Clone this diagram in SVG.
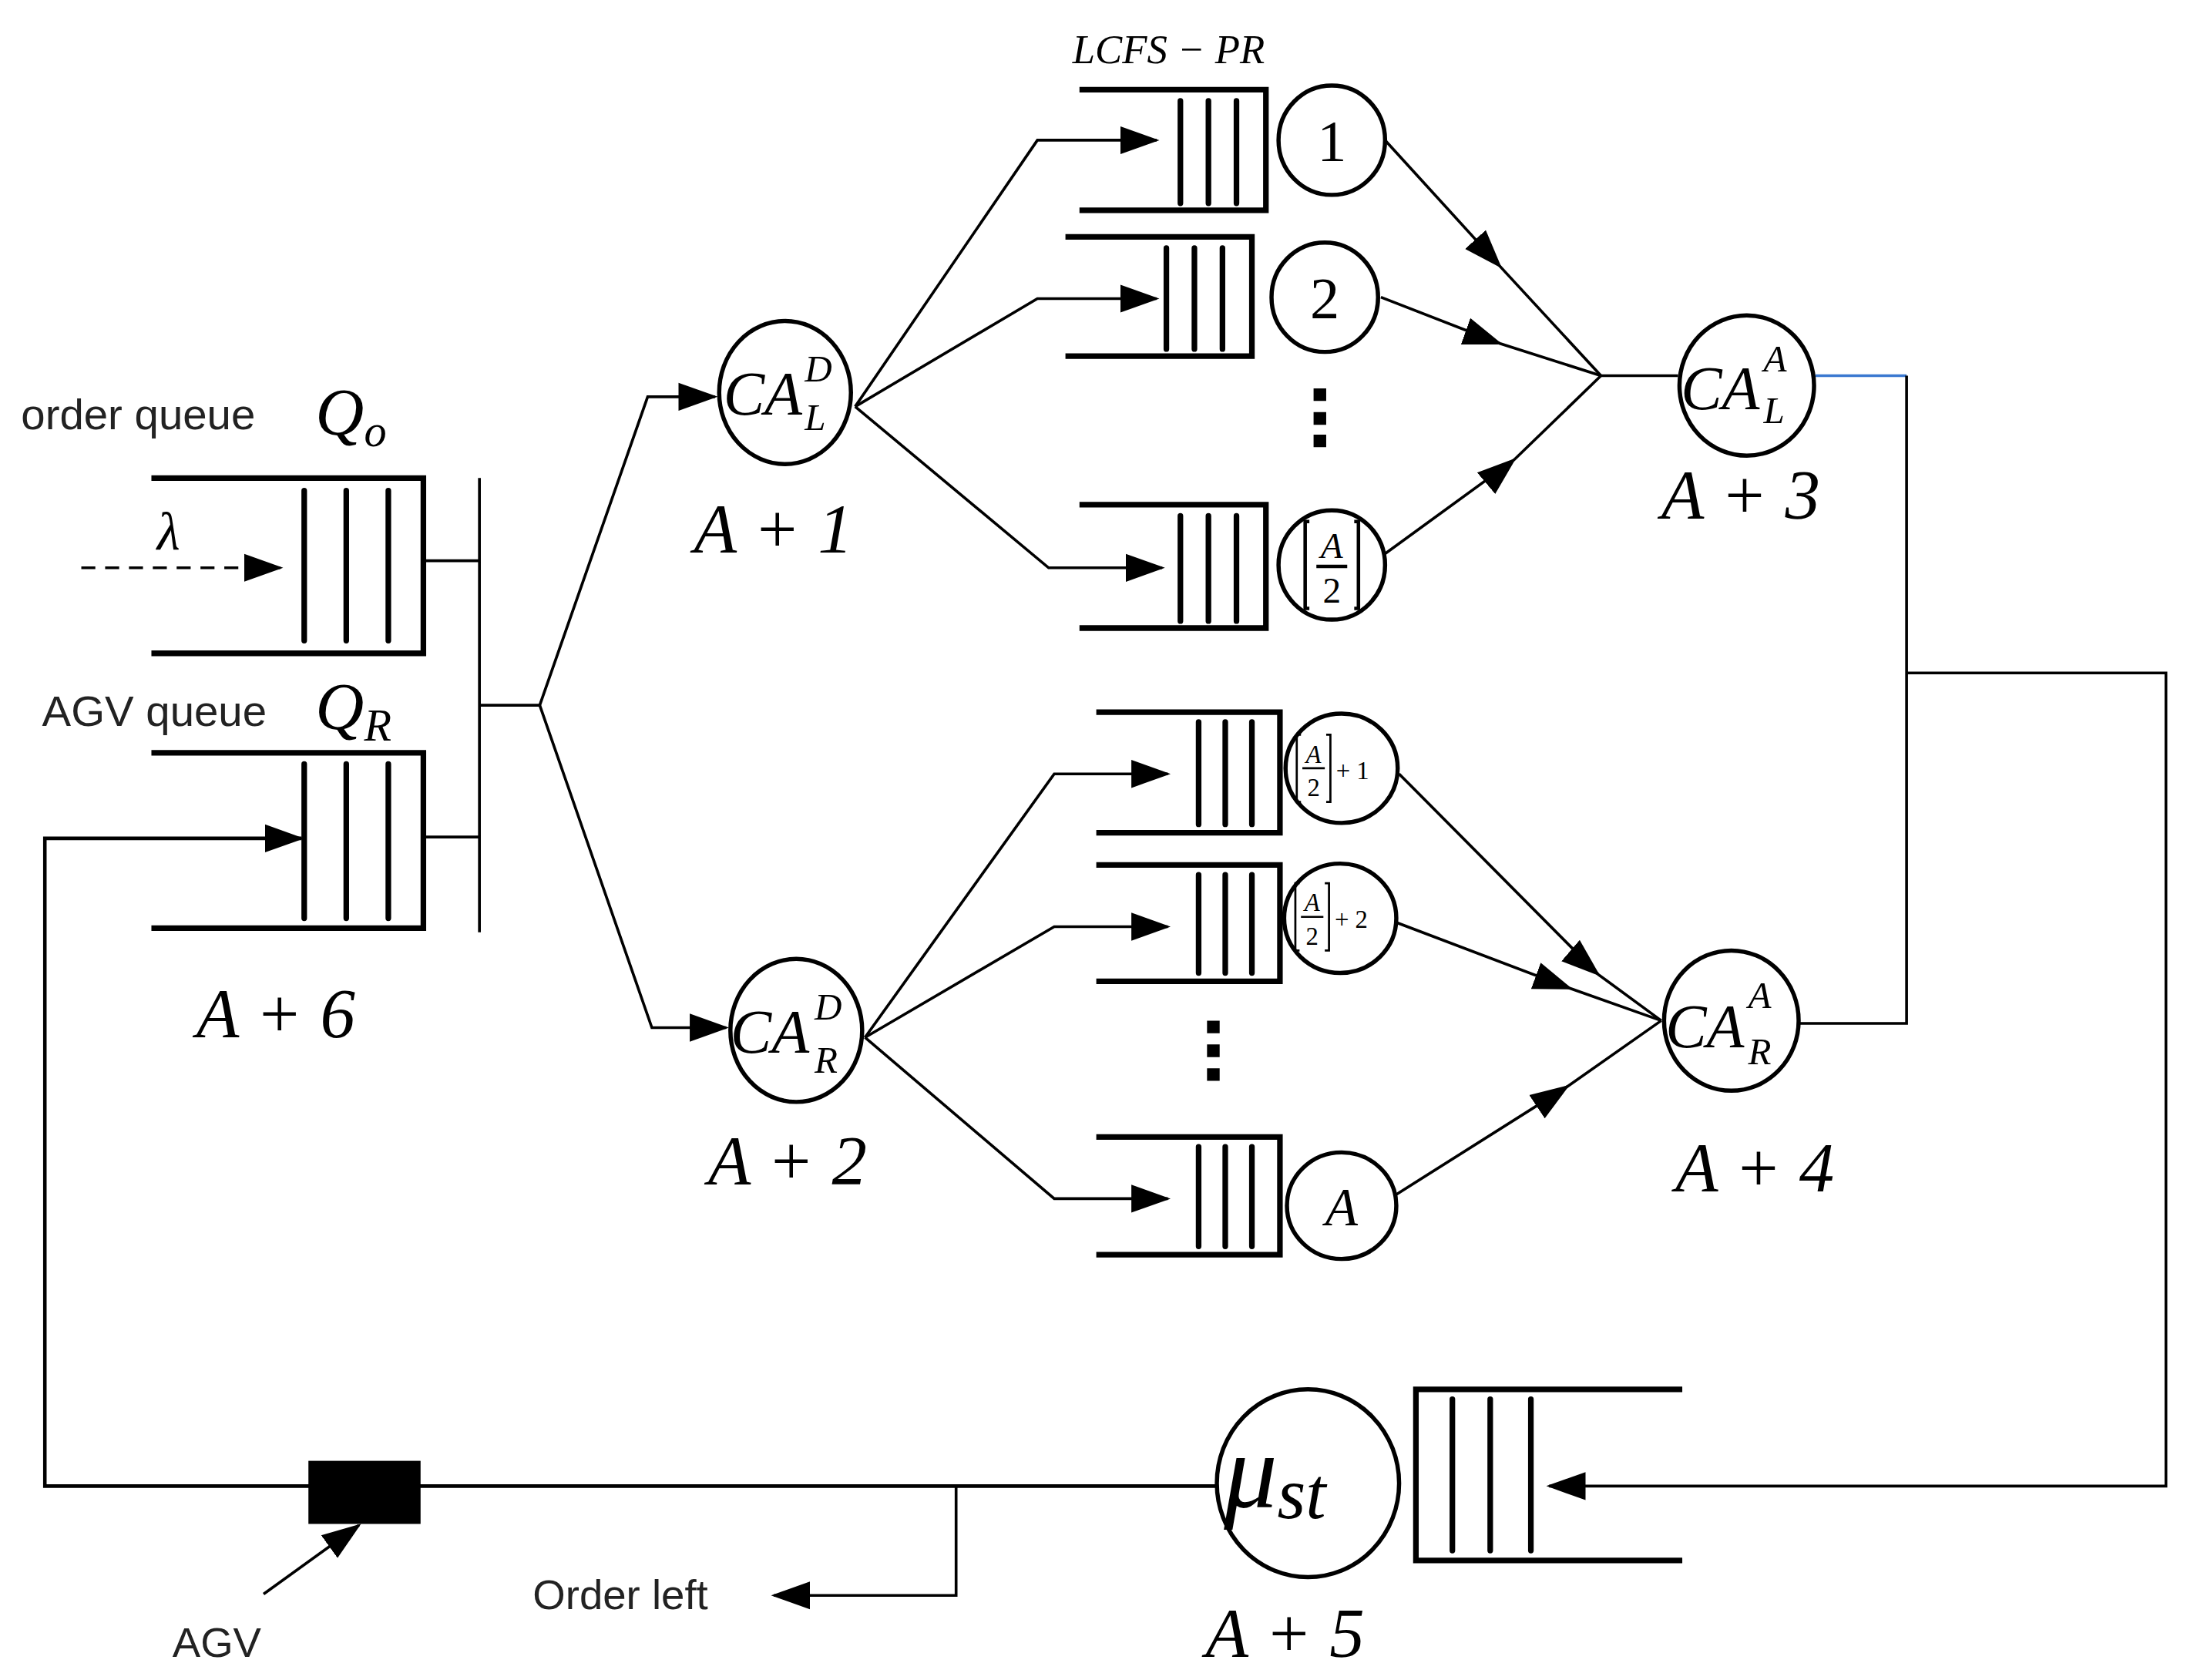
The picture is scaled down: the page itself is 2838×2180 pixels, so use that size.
<svg xmlns="http://www.w3.org/2000/svg" width="2838" height="2180" viewBox="0 0 2838 2180">
<defs>
<marker id="ah" markerUnits="userSpaceOnUse" markerWidth="30" markerHeight="24" refX="26" refY="10" orient="auto" viewBox="0 0 30 20"><path d="M0,0 L28,10 L0,20 Z" fill="#000"/></marker>
<style>
.q{fill:none;stroke:#000;stroke-width:4}
.b{stroke:#000;stroke-width:4;stroke-linecap:round}
.c{fill:#fff;stroke:#000;stroke-width:3}
.l{fill:none;stroke:#000;stroke-width:2}
.m{font-family:"Liberation Serif",serif;font-style:italic;fill:#000}
.n{font-family:"Liberation Serif",serif;font-style:normal;fill:#000}
.s{font-family:"Liberation Sans","Open Sans",sans-serif;fill:#222}
.d{fill:#000}
</style>
</defs>
<rect width="2838" height="2180" fill="#fff"/>
<g transform="scale(1.8192)">
<g id="connectors">
<path class="l" d="M302,400 H342 M302,597 H342 M342,341 V665 M342,503 H385"/>
<path class="l" d="M385,503 L462,283 H510" marker-end="url(#ah)"/>
<path class="l" d="M385,503 L465,733 H518" marker-end="url(#ah)"/>
<path class="l" d="M610,290 L740,100 H825" marker-end="url(#ah)"/>
<path class="l" d="M610,290 L740,213 H825" marker-end="url(#ah)"/>
<path class="l" d="M610,290 L748,405 H829" marker-end="url(#ah)"/>
<path class="l" d="M617,740 L752,552 H833" marker-end="url(#ah)"/>
<path class="l" d="M617,740 L752,661 H833" marker-end="url(#ah)"/>
<path class="l" d="M617,740 L752,855 H833" marker-end="url(#ah)"/>
<path class="l" d="M988,100 L1070,190 L1142,268" marker-mid="url(#ah)"/>
<path class="l" d="M985,212 L1070,245 L1142,268" marker-mid="url(#ah)"/>
<path class="l" d="M988,395 L1080,328 L1142,268" marker-mid="url(#ah)"/>
<path class="l" d="M1142,268 H1197"/>
<path class="l" d="M998,552 L1140,695 L1185,728" marker-mid="url(#ah)"/>
<path class="l" d="M996,658 L1120,705 L1185,728" marker-mid="url(#ah)"/>
<path class="l" d="M996,852 L1118,775 L1185,728" marker-mid="url(#ah)"/>
<path d="M1295,268 H1360" stroke="#3a78d0" stroke-width="2"/>
<path class="l" d="M1360,268 V730 H1282 M1360,480 H1545 V1060 H1105" marker-end="url(#ah)"/>
<path d="M868,1060 H32 V598 H215" fill="none" stroke="#000" stroke-width="2.5" marker-end="url(#ah)"/>
<path class="l" d="M682,1060 V1138 H552" marker-end="url(#ah)"/>
<path class="l" d="M188,1137 L256,1088" marker-end="url(#ah)"/>
<path d="M58,405 H200" fill="none" stroke="#000" stroke-width="2" stroke-dasharray="10,7" marker-end="url(#ah)"/>
</g>
<g id="order-queue">
<path class="q" d="M108,341 H302 V466 H108"/>
<path class="b" d="M217,350 V457 M247,350 V457 M277,350 V457"/>
<text class="s" x="15" y="306" font-size="31">order queue</text>
<text class="m" x="225" y="310" font-size="48">Q<tspan font-size="32" dy="8">o</tspan></text>
<text class="m" x="112" y="392" font-size="38">λ</text>
</g>
<g id="agv-queue">
<path class="q" d="M108,537 H302 V662 H108"/>
<path class="b" d="M217,545 V655 M247,545 V655 M277,545 V655"/>
<text class="s" x="30" y="518" font-size="31">AGV queue</text>
<text class="m" x="225" y="520" font-size="48">Q<tspan font-size="32" dy="8">R</tspan></text>
<text class="m" x="140" y="740" font-size="50">A + 6</text>
</g>
<g id="CALD">
<ellipse class="c" cx="560" cy="280" rx="47" ry="51"/>
<text class="m" x="516" y="296" font-size="44">CA</text>
<text class="m" x="574" y="272" font-size="27">D</text>
<text class="m" x="574" y="307" font-size="27">L</text>
<text class="m" x="495" y="394" font-size="50">A + 1</text>
</g>
<g id="CARD">
<ellipse class="c" cx="568" cy="735" rx="47" ry="51"/>
<text class="m" x="521" y="751" font-size="44">CA</text>
<text class="m" x="581" y="727" font-size="27">D</text>
<text class="m" x="581" y="765" font-size="27">R</text>
<text class="m" x="505" y="845" font-size="50">A + 2</text>
</g>
<text class="m" x="765" y="45" font-size="29">LCFS − PR</text>
<g id="q1">
<path class="q" d="M770,64 H903 V150 H770"/>
<path class="b" d="M842,72 V145 M862,72 V145 M882,72 V145"/>
<ellipse class="c" cx="950" cy="100" rx="38" ry="39"/>
<text class="n" x="950" y="115" font-size="42" text-anchor="middle">1</text>
</g>
<g id="q2">
<path class="q" d="M760,169 H893 V254 H760"/>
<path class="b" d="M832,177 V249 M852,177 V249 M872,177 V249"/>
<ellipse class="c" cx="945" cy="212" rx="38" ry="39"/>
<text class="n" x="945" y="227" font-size="42" text-anchor="middle">2</text>
</g>
<path class="d" d="M937,277 h9 v9 h-9 Z M937,294 h9 v9 h-9 Z M937,310 h9 v9 h-9 Z"/>
<g id="q3">
<path class="q" d="M770,360 H903 V448 H770"/>
<path class="b" d="M842,368 V443 M862,368 V443 M882,368 V443"/>
<ellipse class="c" cx="950" cy="403" rx="38" ry="39"/>
<path d="M934,372 H931 V434 H934 M966,372 H969 V434 H966 M939,404 H961" fill="none" stroke="#000" stroke-width="2.5"/>
<text class="m" x="950" y="398" font-size="26" text-anchor="middle">A</text>
<text class="n" x="950" y="430" font-size="26" text-anchor="middle">2</text>
</g>
<g id="CALA">
<ellipse class="c" cx="1246" cy="275" rx="48" ry="50"/>
<text class="m" x="1199" y="292" font-size="44">CA</text>
<text class="m" x="1258" y="265" font-size="27">A</text>
<text class="m" x="1258" y="302" font-size="27">L</text>
<text class="m" x="1185" y="370" font-size="50">A + 3</text>
</g>
<g id="q4">
<path class="q" d="M782,508 H913 V594 H782"/>
<path class="b" d="M855,515 V588 M874,515 V588 M893,515 V588"/>
<ellipse class="c" cx="957" cy="548" rx="40" ry="39"/>
<path d="M928,524 H925 V572 H928 M946,524 H949 V572 H946 M929,548 H945" fill="none" stroke="#000" stroke-width="1.5"/>
<text class="m" x="937" y="544" font-size="18" text-anchor="middle">A</text>
<text class="n" x="937" y="568" font-size="18" text-anchor="middle">2</text>
<text class="n" x="953" y="556" font-size="18">+ 1</text>
</g>
<g id="q5">
<path class="q" d="M782,617 H913 V700 H782"/>
<path class="b" d="M855,624 V694 M874,624 V694 M893,624 V694"/>
<ellipse class="c" cx="956" cy="655" rx="40" ry="39"/>
<path d="M927,630 H924 V678 H927 M945,630 H948 V678 H945 M928,654 H944" fill="none" stroke="#000" stroke-width="1.5"/>
<text class="m" x="936" y="650" font-size="18" text-anchor="middle">A</text>
<text class="n" x="936" y="674" font-size="18" text-anchor="middle">2</text>
<text class="n" x="952" y="662" font-size="18">+ 2</text>
</g>
<path class="d" d="M861,728 h9 v9 h-9 Z M861,745 h9 v9 h-9 Z M861,762 h9 v9 h-9 Z"/>
<g id="q6">
<path class="q" d="M782,811 H913 V895 H782"/>
<path class="b" d="M855,818 V889 M874,818 V889 M893,818 V889"/>
<ellipse class="c" cx="957" cy="860" rx="39" ry="38"/>
<text class="m" x="957" y="874" font-size="38" text-anchor="middle">A</text>
</g>
<g id="CARA">
<ellipse class="c" cx="1235" cy="728" rx="48" ry="50"/>
<text class="m" x="1188" y="747" font-size="44">CA</text>
<text class="m" x="1247" y="719" font-size="27">A</text>
<text class="m" x="1247" y="759" font-size="27">R</text>
<text class="m" x="1195" y="850" font-size="50">A + 4</text>
</g>
<g id="station">
<path class="q" d="M1200,991 H1010 V1113 H1200"/>
<path class="b" d="M1036,998 V1106 M1063,998 V1106 M1092,998 V1106"/>
<ellipse class="c" cx="933" cy="1058" rx="65" ry="67"/>
<text class="m" x="873" y="1075" font-size="76">μ<tspan font-size="52" dy="8">st</tspan></text>
<text class="m" x="860" y="1182" font-size="50">A + 5</text>
</g>
<g id="agv">
<rect x="220" y="1042" width="80" height="45" fill="#000"/>
<text class="s" x="123" y="1182" font-size="30">AGV</text>
</g>
<text class="s" x="380" y="1148" font-size="30" fill="#444">Order left</text>
</g>
</svg>
